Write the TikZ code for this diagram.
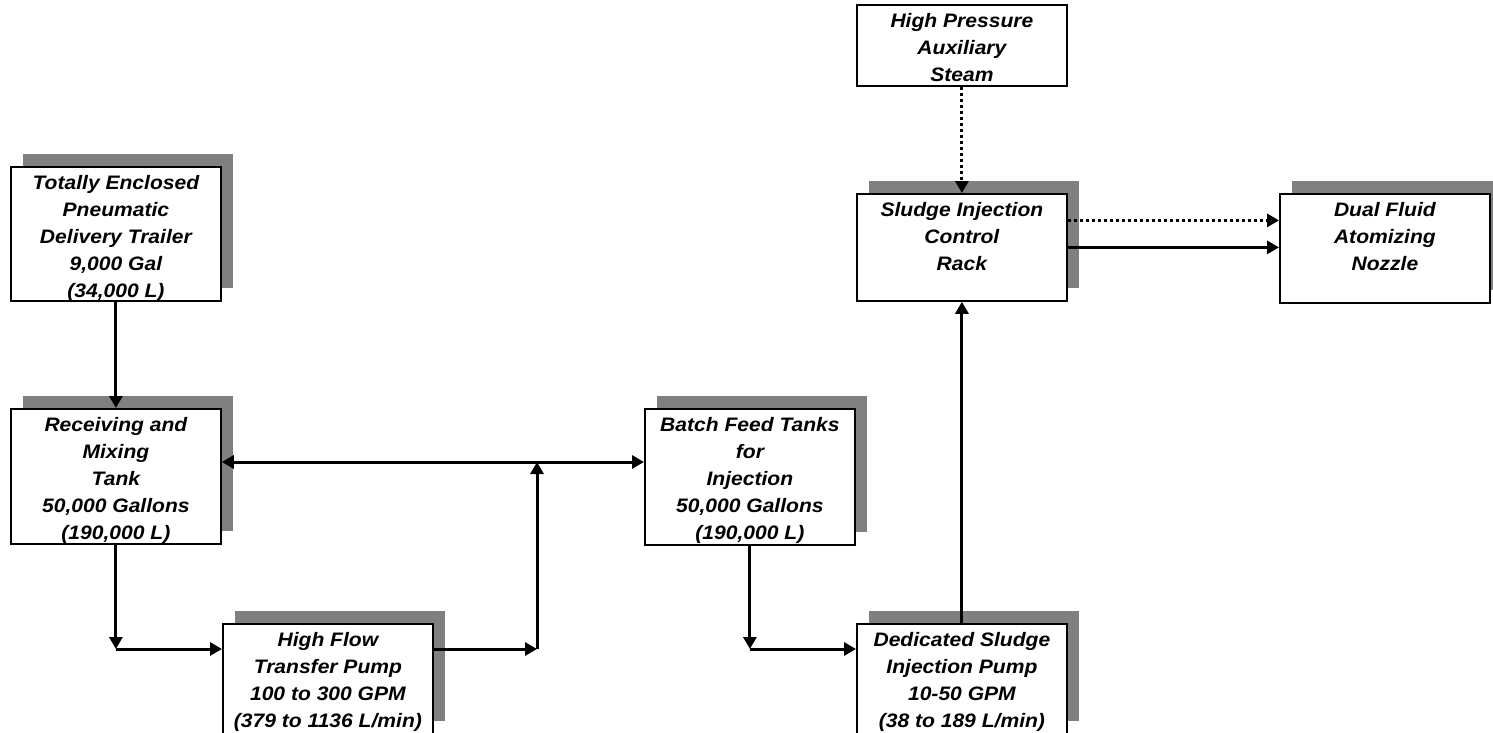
\documentclass[tikz,border=0pt]{standalone}
\usepackage{fontspec}
\setmainfont{Liberation Sans}[FakeStretch=1.08]
\usetikzlibrary{arrows.meta,shadows}

\definecolor{ShadowGray}{RGB}{128,128,128}
\newcommand{\UnitText}[2]{\parbox[c][#1pt][t]{210pt}{\centering #2}}

\begin{document}
\begin{tikzpicture}[
        x = 1pt, y = -1pt,
        Unit/.style={draw, line width=1.8pt, fill=white, anchor=north west, inner xsep=0pt, inner ysep=8pt, font=\fontsize{19.5}{27}\selectfont\bfseries\itshape},
        Shaded/.style={Unit, general shadow={fill=ShadowGray, shadow xshift=12pt, shadow yshift=13pt}},
        Flow/.style={line width=3pt, -{Triangle[length=12pt, width=13pt]}},
        SteamLine/.style={Flow, dash pattern=on 3pt off 3pt},
        ]
    \useasboundingbox (0,0) rectangle (1493,733);

    \node [Shaded] (trailer) at (10,166) {\UnitText{118}{Totally Enclosed\\Pneumatic\\Delivery Trailer\\9,000 Gal\\(34,000 L)}};
    \node [Shaded] (tank) at (10,408) {\UnitText{119}{Receiving and\\Mixing\\Tank\\50,000 Gallons\\(190,000 L)}};
    \node [Shaded] (xferpump) at (222,623) {\UnitText{94}{High Flow\\Transfer Pump\\100 to 300 GPM\\(379 to 1136 L/min)}};
    \node [Shaded] (batch) at (644,408) {\UnitText{120}{Batch Feed Tanks\\for\\Injection\\50,000 Gallons\\(190,000 L)}};
    \node [Shaded] (injpump) at (856,623) {\UnitText{94}{Dedicated Sludge\\Injection Pump\\10-50 GPM\\(38 to 189 L/min)}};
    \node [Unit] (steam) at (856,4) {\UnitText{65}{High Pressure\\Auxiliary\\Steam}};
    \node [Shaded] (rack) at (856,193) {\UnitText{91}{Sludge Injection\\Control\\Rack}};
    \node [Shaded] (nozzle) at (1279,193) {\UnitText{93}{Dual Fluid\\Atomizing\\Nozzle}};

    \coordinate (feed) at (tank.south |- 0,649);
    \coordinate (riser) at (537,649);
    \coordinate (tee) at (537,462);
    \coordinate (drop) at (batch.south |- 0,649);

    \draw [Flow] (trailer.south) -- (trailer.south |- tank.north);
    \draw [Flow] (tank.south) -- (feed);
    \draw [Flow] (feed) -- (feed -| xferpump.west);
    \draw [Flow] (feed -| xferpump.east) -- (riser);
    \draw [Flow] (riser) -- (tee);
    \draw [Flow] (tee) -- (tee -| tank.east);
    \draw [Flow] (tee) -- (tee -| batch.west);
    \draw [Flow] (batch.south) -- (drop);
    \draw [Flow] (drop) -- (drop -| injpump.west);
    \draw [Flow] (injpump.north) -- (rack.south);
    \draw [SteamLine] (steam.south) -- (rack.north);
    \draw [SteamLine] ([yshift=27pt]rack.east) -- ([yshift=27pt]rack.east -| nozzle.west);
    \draw [Flow] (rack.east) -- (rack.east -| nozzle.west);
\end{tikzpicture}
\end{document}
